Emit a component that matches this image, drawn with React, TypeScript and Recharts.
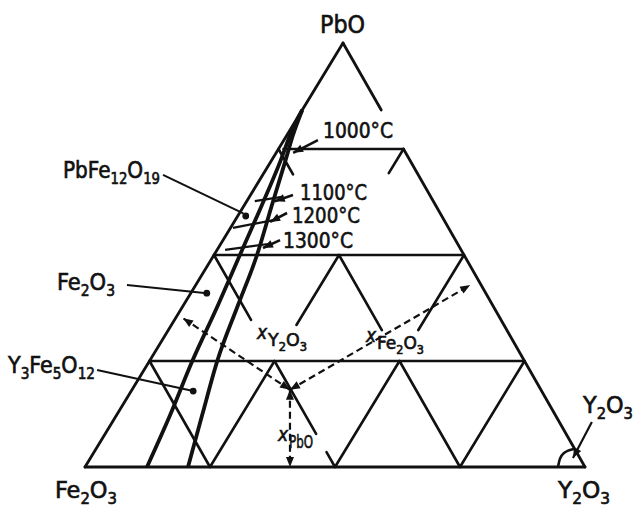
import React from "react";
import {
  ComposedChart,
  XAxis,
  YAxis,
  Line,
  ReferenceLine,
  ReferenceDot,
  Customized,
} from "recharts";

// A composition is [x(PbO), x(Y2O3)]; x(Fe2O3) is whatever is left.
type Comp = [number, number];
type Seg = [Comp, Comp];

const INK = "#111";
const FONT = "'DejaVu Sans Condensed', 'DejaVu Sans', sans-serif";

// Fe2O3 corner at the origin, Y2O3 at (1, 0); the PbO apex leans a little right
const APEX_X = 0.516;

// triangle sides, the PbO–Y2O3 side broken under the 1000°C label
const outline: Seg[] = [
  [[0, 0], [0, 1]],
  [[0, 0], [1, 0]],
  [[0, 1], [0.75, 0.25]],
  [[0.842, 0.158], [1, 0]],
];

// 0.25 grid, only partly drawn in the upper rows
const gridLines: Seg[] = [
  [[0.25, 0], [0.25, 0.75]],
  [[0.5, 0], [0.5, 0.5]],
  [[0.75, 0.01], [0.75, 0.25]],
  // bottom row
  [[0.25, 0], [0, 0.25]],
  [[0, 0.25], [0.25, 0.25]],
  [[0.25, 0.25], [0.078, 0.422]],
  [[0.035, 0.465], [0, 0.5]],
  [[0, 0.5], [0.25, 0.5]],
  [[0.25, 0.5], [0, 0.75]],
  [[0, 0.75], [0.25, 0.75]],
  // middle row
  [[0.5, 0], [0.347, 0.153]],
  [[0.5, 0.25], [0.335, 0.25]],
  [[0.5, 0.25], [0.323, 0.427]],
  [[0.5, 0.5], [0.323, 0.5]],
  // stubs below the 0.75 line
  [[0.75, 0.25], [0.693, 0.25]],
  [[0.75, 0], [0.69, 0.06]],
];

// primary field boundaries
const boundaryFe: Comp[] = [
  [0, 0.124], [0.123, 0.107], [0.248, 0.086], [0.382, 0.069], [0.512, 0.05],
  [0.618, 0.035], [0.719, 0.019], [0.795, 0.004], [0.842, 0],
];
const boundaryGarnet: Comp[] = [
  [0, 0.206], [0.123, 0.171], [0.248, 0.136], [0.382, 0.109], [0.5, 0.086],
  [0.618, 0.055], [0.719, 0.029], [0.783, 0.012], [0.842, 0],
];
const y2o3Field: Comp[] = [[0, 0.946], [0.019, 0.94], [0.033, 0.941], [0.0425, 0.956]];

const temps = [1000, 1100, 1200, 1300];
// isotherm pieces across the narrow fields (1100, 1200, 1300 °C)
const isotherms: Seg[] = [
  [[0.627, 0.016], [0.637, 0.065]],
  [[0.564, 0.005], [0.583, 0.079]],
  [[0.512, 0.016], [0.526, 0.095]],
];
// pointer from each temperature label
const tempArrows: Seg[] = [
  [[0.771, 0.068], [0.741, 0.034]],
  [[0.6415, 0.085], [0.627, 0.056]],
  [[0.599, 0.095], [0.578, 0.072]],
  [[0.535, 0.114], [0.5165, 0.0895]],
];

// example melt and its mole-fraction arrows (PbO, Y2O3, Fe2O3)
const sampleComp: Comp = [0.182, 0.316];
const fractionEnds: Comp[] = [[0, 0.41], [0.351, 0.015], [0.429, 0.549]];

// phase field labels: PbFe12O19, Fe2O3, Y3Fe5O12, Y2O3
const phaseLeaders: Seg[] = [
  [[0.689, -0.1995], [0.598, 0.008]],
  [[0.429, -0.1375], [0.41, 0.032]],
  [[0.229, -0.094], [0.179, 0.124]],
];
const phaseDots: Comp[] = [[0.592, 0.016], [0.41, 0.032], [0.179, 0.124]];
const y2o3Pointer: Seg = [[0.106, 0.959], [0.0212, 0.965]];

const toPoint = ([pbo, y2o3]: Comp) => ({ x: y2o3 + APEX_X * pbo, y: pbo });

function headPoints(tx: number, ty: number, fx: number, fy: number, len = 10, half = 4) {
  const d = Math.hypot(tx - fx, ty - fy) || 1;
  const ux = (tx - fx) / d;
  const uy = (ty - fy) / d;
  const bx = tx - ux * len;
  const by = ty - uy * len;
  return `${tx},${ty} ${bx - uy * half},${by + ux * half} ${bx + uy * half},${by - ux * half}`;
}

function arrowShape(both: boolean, dashed: boolean, width = 2) {
  return (p: any) => {
    const { x1, y1, x2, y2 } = p;
    const tips = both
      ? [[x2, y2, x1, y1], [x1, y1, x2, y2]]
      : [[x2, y2, x1, y1]];
    return (
      <g>
        <line
          x1={x1}
          y1={y1}
          x2={x2}
          y2={y2}
          stroke={INK}
          strokeWidth={width}
          strokeDasharray={dashed ? "7 4" : undefined}
        />
        {tips.map(([tx, ty, fx, fy], i) => (
          <polygon key={i} points={headPoints(tx, ty, fx, fy)} fill={INK} />
        ))}
      </g>
    );
  };
}

function formulaSpans(text: string, size: number) {
  const parts = text.match(/\d+|\D+/g) ?? [];
  const drop = Math.round(size * 0.28);
  let prev = 0;
  return parts.map((p, i) => {
    const sub = /^\d/.test(p);
    const off = sub ? drop : 0;
    const dy = off - prev;
    prev = off;
    return (
      <tspan key={i} dy={dy} fontSize={sub ? size * 0.66 : size}>
        {p}
      </tspan>
    );
  });
}

function Formula({ x, y, text, size = 23, width }: { x: number; y: number; text: string; size?: number; width: number }) {
  return (
    <text x={x} y={y} fontSize={size} textLength={width} lengthAdjust="spacingAndGlyphs">
      {formulaSpans(text, size)}
    </text>
  );
}

// italic x with the oxide written as its subscript
function Fraction({ x, y, of, width }: { x: number; y: number; of: string; width: number }) {
  return (
    <g>
      <text x={x} y={y} fontSize={19} fontStyle="italic">
        x
      </text>
      <Formula x={x + 11} y={y + 7} text={of} size={18} width={width} />
    </g>
  );
}

function Labels() {
  const tempPos = [
    [323, 138, 70],
    [300, 200, 67],
    [292, 223, 68],
    [283, 248, 70],
  ];
  return (
    <g fontFamily={FONT} fill={INK} stroke={INK} strokeWidth={0.6}>
      <text x={320} y={33} fontSize={24} textLength={45} lengthAdjust="spacingAndGlyphs">
        PbO
      </text>
      <Formula x={55} y={498} text="Fe2O3" width={62} />
      <Formula x={558} y={498} text="Y2O3" width={52} />
      <Formula x={63} y={178} text="PbFe12O19" width={97} />
      <Formula x={57} y={290} text="Fe2O3" width={58} />
      <Formula x={8} y={373} text="Y3Fe5O12" width={87} />
      <Formula x={583} y={413} text="Y2O3" width={50} />
      {temps.map((t, i) => (
        <text
          key={t}
          x={tempPos[i][0]}
          y={tempPos[i][1]}
          fontSize={22}
          textLength={tempPos[i][2]}
          lengthAdjust="spacingAndGlyphs"
        >
          {`${t}°C`}
        </text>
      ))}
      <Fraction x={257} y={339} of="Y2O3" width={39} />
      <Fraction x={366} y={342} of="Fe2O3" width={47} />
      <Fraction x={278} y={441} of="PbO" width={24} />
    </g>
  );
}

export default function App() {
  const center = toPoint(sampleComp);
  return (
    <div style={{ position: "absolute", left: 0, top: 0, background: "#fff" }}>
      <ComposedChart width={636} height={513} margin={{ top: 0, right: 0, bottom: 0, left: 0 }}>
        <XAxis type="number" dataKey="x" domain={[-0.17, 1.102]} hide allowDataOverflow />
        <YAxis type="number" domain={[-0.1085, 1.1014]} hide allowDataOverflow />

        {outline.map((s, i) => (
          <ReferenceLine key={`o${i}`} segment={s.map(toPoint)} stroke={INK} strokeWidth={2.8} strokeLinecap="round" />
        ))}
        {gridLines.map((s, i) => (
          <ReferenceLine key={`g${i}`} segment={s.map(toPoint)} stroke={INK} strokeWidth={2.6} strokeLinecap="round" />
        ))}
        {isotherms.map((s, i) => (
          <ReferenceLine key={`t${i}`} segment={s.map(toPoint)} stroke={INK} strokeWidth={2.2} />
        ))}
        {phaseLeaders.map((s, i) => (
          <ReferenceLine key={`l${i}`} segment={s.map(toPoint)} stroke={INK} strokeWidth={2} />
        ))}
        {phaseDots.map((c, i) => (
          <ReferenceDot key={`d${i}`} {...toPoint(c)} r={3.4} fill={INK} stroke="none" />
        ))}

        <Line data={boundaryFe.map(toPoint)} dataKey="y" type="monotone" stroke={INK} strokeWidth={3.8} dot={false} activeDot={false} isAnimationActive={false} />
        <Line data={boundaryGarnet.map(toPoint)} dataKey="y" type="monotone" stroke={INK} strokeWidth={3.8} dot={false} activeDot={false} isAnimationActive={false} />
        <Line data={y2o3Field.map(toPoint)} dataKey="y" type="monotone" stroke={INK} strokeWidth={2.6} dot={false} activeDot={false} isAnimationActive={false} />

        {tempArrows.map((s, i) => (
          <ReferenceLine key={`a${i}`} segment={s.map(toPoint)} shape={arrowShape(false, false, 2.6)} />
        ))}
        <ReferenceLine segment={y2o3Pointer.map(toPoint)} shape={arrowShape(false, false, 2.2)} />
        {fractionEnds.map((c, i) => (
          <ReferenceLine key={`f${i}`} segment={[center, toPoint(c)]} shape={arrowShape(true, true, 2.2)} />
        ))}

        <Customized component={<Labels />} />
      </ComposedChart>
    </div>
  );
}
